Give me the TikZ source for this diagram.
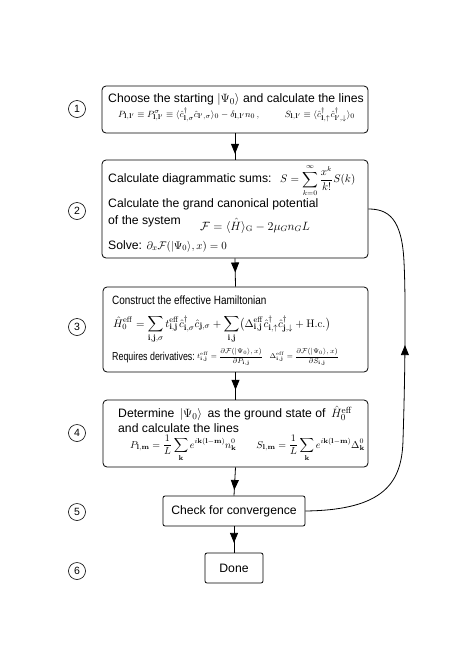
\documentclass[tikz,border=0pt]{standalone}
\usepackage{amsmath}
\usepackage{graphicx}
\usepackage[no-math]{fontspec}
\setmainfont{Liberation Sans}
\usetikzlibrary{arrows.meta,decorations.markings,calc}
\begin{document}
\begin{tikzpicture}[x=1pt,y=-1pt,
  bigbox/.style={draw, rounded corners=4pt, line width=0.8pt, inner sep=0pt},
  smallbox/.style={draw, rounded corners=2pt, line width=0.8pt, inner sep=0pt},
  txt/.style={inner sep=0pt, anchor=base west, font=\fontsize{12.2}{14.5}\selectfont},
  numc/.style={draw, circle, line width=0.6pt, minimum size=17pt, inner sep=0pt, font=\fontsize{10.5}{12}\selectfont},
  conn/.style={line width=0.8pt, postaction={decorate},
    decoration={markings, mark=at position #1 with {\arrow{Triangle[length=10pt,width=8pt]}}}}
]
\useasboundingbox (0,0) rectangle (457,646);
% boxes
\node[bigbox, minimum width=266pt, minimum height=47pt] (b1) at (235,109.5) {};
\node[bigbox, minimum width=266pt, minimum height=98pt] (b2) at (235,209) {};
\node[bigbox, minimum width=265pt, minimum height=85pt] (b3) at (235.5,329.5) {};
\node[bigbox, minimum width=265pt, minimum height=67pt] (b4) at (235.5,433.5) {};
\node[smallbox, minimum width=142pt, minimum height=30pt] (b5) at (234,511) {};
\node[smallbox, minimum width=58pt, minimum height=30pt] (b6) at (234,568) {};
% numbers
\node[numc] (n1) at (77,109) {1};
\node[numc] (n2) at (77,211) {2};
\node[numc] (n3) at (77,327) {3};
\node[numc] (n4) at (77,433) {4};
\node[numc] (n5) at (77,512) {5};
\node[numc] (n6) at (77,571) {6};
% box 1
\node[txt] (t1a) at (108,102.5) {Choose the starting $|\Psi_0\rangle$ and calculate the lines};
\node[txt, font=\fontsize{9.3}{11}\selectfont] (t1b) at (118,117) {$P_{\mathbf{l,l'}}\equiv P^{\sigma}_{\mathbf{l,l'}}\equiv\langle\hat c^{\dagger}_{\mathbf{l},\sigma}\hat c_{\mathbf{l'},\sigma}\rangle_0-\delta_{\mathbf{l,l'}}n_0\,,\hspace{24pt}S_{\mathbf{l,l'}}\equiv\langle\hat c^{\dagger}_{\mathbf{l},\uparrow}\hat c^{\dagger}_{\mathbf{l'},\downarrow}\rangle_0$};
% box 2
\node[txt] (t2a) at (108,182.5) {Calculate diagrammatic sums:};
\node[txt, font=\fontsize{10.5}{12}\selectfont] (t2b) at (280,182.5) {$\displaystyle S=\sum_{k=0}^{\infty}\frac{x^k}{k!}S(k)$};
\node[txt] (t2c) at (108,207.5) {Calculate the grand canonical potential};
\node[txt] (t2d) at (108,224) {of the system};
\node[txt, font=\fontsize{11.5}{13}\selectfont] (t2e) at (200,230) {$\mathcal{F}=\langle\hat H\rangle_{\mathrm{G}}-2\mu_G n_G L$};
\node[txt] (t2f) at (108,249) {Solve: \fontsize{11}{13}\selectfont$\partial_x\mathcal{F}(|\Psi_0\rangle,x)=0$};
% box 3
\node[txt, font=\fontsize{12}{14}\selectfont] (t3a) at (112,304) {\scalebox{0.83}[1]{Construct the effective Hamiltonian}};
\node[txt, font=\fontsize{10.8}{13}\selectfont] (t3b) at (113,327) {$\displaystyle\hat H_0^{\mathrm{eff}}=\sum_{\mathbf{i,j},\sigma}t^{\mathrm{eff}}_{\mathbf{i,j}}\hat c^{\dagger}_{\mathbf{i},\sigma}\hat c_{\mathbf{j},\sigma}+\sum_{\mathbf{i,j}}\bigl(\Delta^{\mathrm{eff}}_{\mathbf{i,j}}\hat c^{\dagger}_{\mathbf{i},\uparrow}\hat c^{\dagger}_{\mathbf{j},\downarrow}+\mathrm{H.c.}\bigr)$};
\node[txt, font=\fontsize{11.5}{13}\selectfont] (t3c) at (112,360) {\scalebox{0.77}[1]{Requires derivatives:}};
\node[txt, font=\fontsize{6.6}{8}\selectfont] (t3d) at (197,358.5) {$t^{\mathrm{eff}}_{\mathbf{i,j}}=\dfrac{\partial\mathcal{F}(|\Psi_0\rangle,x)}{\partial P_{\mathbf{i,j}}}\quad\Delta^{\mathrm{eff}}_{\mathbf{i,j}}=\dfrac{\partial\mathcal{F}(|\Psi_0\rangle,x)}{\partial S_{\mathbf{i,j}}}$};
% box 4
\node[txt] (t4a) at (118,417.5) {Determine\ \,$|\Psi_0\rangle$\ \,as the ground state of\ \,$\hat H_0^{\mathrm{eff}}$};
\node[txt] (t4b) at (118,432.5) {and calculate the lines};
\node[txt, font=\fontsize{10}{12}\selectfont] (t4c) at (130,448) {$\displaystyle P_{\mathbf{l,m}}=\frac{1}{L}\sum_{\mathbf{k}}e^{i\mathbf{k}(\mathbf{l}-\mathbf{m})}n^0_{\mathbf{k}}\qquad S_{\mathbf{l,m}}=\frac{1}{L}\sum_{\mathbf{k}}e^{i\mathbf{k}(\mathbf{l}-\mathbf{m})}\Delta^0_{\mathbf{k}}$};
% box 5, 6
\node[txt, anchor=center] (t5) at (234,511) {Check for convergence};
\node[txt, anchor=center] (t6) at (234,568) {Done};
% connectors
\draw[conn=0.78] (b1.south) -- (b2.north);
\draw[conn=0.5] (b2.south) -- (b3.north);
\draw[conn=0.64] (b3.south) -- (b4.north);
\draw[conn=0.8] (b4.south) -- (b5.north);
\draw[conn=0.63] (b5.south) -- (b6.north);
\draw[line width=0.8pt, postaction={decorate},
  decoration={markings, mark=at position 0.6 with {\arrow{Triangle[length=10pt,width=8pt]}}}]
  (b5.east) .. controls (385,510) and (402,482) .. (403,440)
  .. controls (405,380) and (406,300) .. (404,262)
  .. controls (402,218) and (388,209) .. (b2.east);
\end{tikzpicture}
\end{document}
